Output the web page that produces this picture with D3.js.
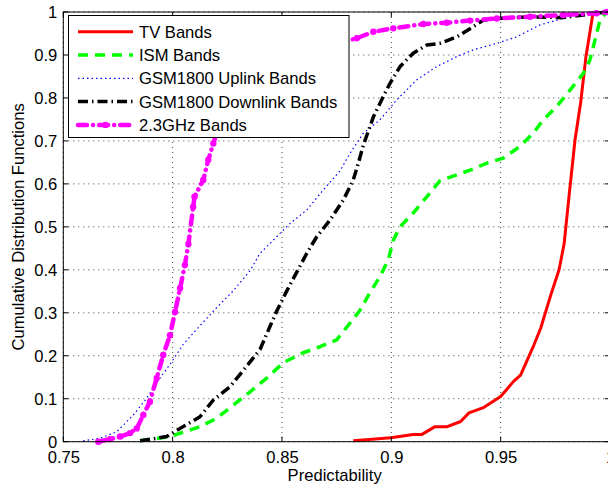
<!DOCTYPE html>
<html><head><meta charset="utf-8">
<script src="https://cdn.jsdelivr.net/npm/d3@7"></script>
<style>body{margin:0;background:#fff}svg{display:block}text{font-family:"Liberation Sans",Arial,sans-serif}</style>
</head><body><svg id="c" width="608" height="491"></svg>
<script>
const xTicks=[0.75,0.8,0.85,0.9,0.95,1];
const yTicks=[0,0.1,0.2,0.3,0.4,0.5,0.6,0.7,0.8,0.9,1];
const seriesNames=["TV Bands","ISM Bands","GSM1800 Uplink Bands","GSM1800 Downlink Bands","2.3GHz Bands"];
const tvBands=[[0.8826,0.002],[0.8997,0.009],[0.910,0.017],[0.914,0.017],[0.920,0.035],[0.9256,0.035],[0.9317,0.047],[0.9355,0.067],[0.9424,0.080],[0.950,0.105],[0.956,0.141],[0.9591,0.155],[0.9652,0.225],[0.9683,0.264],[0.9729,0.341],[0.9767,0.400],[0.979,0.46],[0.9814,0.578],[0.984,0.702],[0.9866,0.79],[0.989,0.896],[0.9923,1.0]];
const ismBands=[[0.7851,0.002],[0.7988,0.012],[0.8125,0.035],[0.820,0.054],[0.8277,0.085],[0.8354,0.116],[0.843,0.148],[0.8506,0.184],[0.8597,0.207],[0.8674,0.221],[0.875,0.237],[0.8811,0.276],[0.8857,0.306],[0.890,0.345],[0.8948,0.384],[0.8986,0.423],[0.9009,0.469],[0.904,0.500],[0.910,0.532],[0.9162,0.570],[0.9222,0.607],[0.936,0.632],[0.9436,0.648],[0.9512,0.660],[0.9588,0.687],[0.9649,0.718],[0.9695,0.749],[0.9756,0.780],[0.9817,0.818],[0.9878,0.857],[0.9908,0.888],[0.9939,0.950],[0.9954,0.981],[0.9985,1.0]];
const gsmUplink=[[0.7591,0.002],[0.7668,0.008],[0.7744,0.023],[0.782,0.062],[0.7881,0.101],[0.7942,0.148],[0.7988,0.18],[0.8049,0.227],[0.8125,0.27],[0.8201,0.312],[0.8277,0.351],[0.8354,0.398],[0.8399,0.438],[0.8476,0.477],[0.8537,0.508],[0.8613,0.539],[0.8689,0.586],[0.8765,0.63],[0.8811,0.671],[0.8872,0.718],[0.8948,0.749],[0.9024,0.795],[0.9116,0.842],[0.9207,0.873],[0.9299,0.896],[0.9375,0.912],[0.9482,0.927],[0.9573,0.942],[0.968,0.970],[0.9786,0.985],[0.9878,0.997],[0.995,1.0]];
const gsmDownlink=[[0.7851,0.002],[0.7927,0.008],[0.7973,0.012],[0.8034,0.031],[0.8125,0.058],[0.8186,0.097],[0.8262,0.128],[0.8339,0.176],[0.840,0.215],[0.8445,0.268],[0.8476,0.304],[0.8521,0.35],[0.8567,0.394],[0.8613,0.438],[0.8659,0.477],[0.872,0.516],[0.878,0.562],[0.8826,0.609],[0.8849,0.648],[0.8872,0.69],[0.8918,0.756],[0.8963,0.803],[0.8994,0.834],[0.904,0.873],[0.910,0.904],[0.9162,0.923],[0.9222,0.927],[0.9299,0.942],[0.9375,0.966],[0.942,0.981],[0.9482,0.985],[0.9634,0.989],[0.9786,0.987],[0.9939,0.997],[0.998,1.0]];
const band23=[[0.766,0.0],[0.7714,0.006],[0.776,0.012],[0.7805,0.020],[0.7836,0.031],[0.7866,0.062],[0.7896,0.093],[0.7927,0.148],[0.7957,0.202],[0.7988,0.248],[0.8011,0.302],[0.8034,0.357],[0.8056,0.411],[0.8072,0.46],[0.8094,0.547],[0.810,0.570],[0.814,0.609],[0.8163,0.656],[0.8186,0.694],[0.8201,0.718],[0.83,0.80],[0.845,0.87],[0.86,0.905],[0.8842,0.939],[0.8918,0.954],[0.9009,0.962],[0.9146,0.972],[0.9253,0.975],[0.936,0.980],[0.9482,0.985],[0.9634,0.989],[0.9786,0.993],[0.9939,0.997],[0.9985,1.0]];

const L=63.3,R=610,T=12,B=441.7;
const FS=16.6;
const x=d3.scaleLinear([0.75,1],[L,R]);
const y=d3.scaleLinear([0,1],[B,T]);
const svg=d3.select("#c");
svg.append("rect").attr("width",608).attr("height",491).attr("fill","#fff");

// grid
const g=svg.append("g");
g.selectAll(".gx").data(xTicks).join("line").attr("x1",d=>x(d)).attr("x2",d=>x(d)).attr("y1",T).attr("y2",B)
 .attr("stroke","#444").attr("stroke-width",1).attr("stroke-dasharray","1,4");
g.selectAll(".gy").data(yTicks).join("line").attr("y1",d=>y(d)).attr("y2",d=>y(d)).attr("x1",L).attr("x2",R)
 .attr("stroke","#444").attr("stroke-width",1).attr("stroke-dasharray","1,4");

const styles=[
 {data:tvBands,color:"#ff0000",w:3,dash:null,cap:"butt"},
 {data:ismBands,color:"#00ff00",w:3.5,dash:"10,7",cap:"butt"},
 {data:gsmUplink,color:"#0000ff",w:1.2,dash:"1.5,3",cap:"butt"},
 {data:gsmDownlink,color:"#000000",w:3.5,dash:"10,4,1.5,4",cap:"butt"},
 {data:band23,color:"#ff00ff",w:4.5,dash:"9,6,0.1,6",cap:"round",marker:true}
];
const line=d3.line().x(d=>x(d[0])).y(d=>y(d[1]));
const pg=svg.append("g");
styles.forEach(s=>{
  pg.append("path").attr("d",line(s.data)).attr("fill","none").attr("stroke",s.color)
   .attr("stroke-width",s.w).attr("stroke-dasharray",s.dash).attr("stroke-linecap",s.cap).attr("stroke-linejoin","round");
  if(s.marker){
    pg.selectAll(null).data(s.data).join("circle").attr("cx",d=>x(d[0])).attr("cy",d=>y(d[1])).attr("r",3.2).attr("fill",s.color);
  }
});

// axes box
const ax=svg.append("g");
ax.append("rect").attr("x",L).attr("y",T).attr("width",R-L).attr("height",B-T).attr("fill","none").attr("stroke","#000").attr("stroke-width",1);
const xa=d3.axisBottom(x).tickValues(xTicks).tickSize(0).tickPadding(0).tickFormat(d=>d3.format("")(+d.toFixed(2)));
const xg=svg.append("g").attr("transform",`translate(0,${B})`).call(xa);
xg.select(".domain").remove();
xg.selectAll("text").attr("dy",null).attr("y",21).attr("font-size",FS).attr("fill","#000").attr("font-family","Liberation Sans, Arial, sans-serif");
const ya=d3.axisLeft(y).tickValues(yTicks).tickSize(0).tickPadding(0).tickFormat(d=>d3.format("")(+d.toFixed(1)));
const yg=svg.append("g").attr("transform",`translate(${L},0)`).call(ya);
yg.select(".domain").remove();
yg.selectAll("text").attr("x",-6).attr("dy","0.35em").attr("font-size",FS).attr("fill","#000").attr("font-family","Liberation Sans, Arial, sans-serif");
// inner ticks on four sides
const tk=svg.append("g").attr("stroke","#000").attr("stroke-width",1);
xTicks.forEach(v=>{tk.append("line").attr("x1",x(v)).attr("x2",x(v)).attr("y1",B).attr("y2",B-5);
 tk.append("line").attr("x1",x(v)).attr("x2",x(v)).attr("y1",T).attr("y2",T+5);});
yTicks.forEach(v=>{tk.append("line").attr("y1",y(v)).attr("y2",y(v)).attr("x1",L).attr("x2",L+5);
 tk.append("line").attr("y1",y(v)).attr("y2",y(v)).attr("x1",R).attr("x2",R-5);});

svg.append("text").attr("x",(L+R)/2-2).attr("y",481).attr("text-anchor","middle").attr("font-size",FS).text("Predictability");
svg.append("text").attr("transform",`translate(24,${(T+B)/2}) rotate(-90)`).attr("text-anchor","middle").attr("font-size",FS).text("Cumulative Distribution Functions");

// legend
const lg=svg.append("g");
lg.append("rect").attr("x",68.5).attr("y",15.5).attr("width",280.5).attr("height",122).attr("fill","#fff").attr("stroke","#000").attr("stroke-width",1);
styles.forEach((s,i)=>{
  const cy=31.7+i*23.3;
  lg.append("line").attr("x1",78).attr("x2",133).attr("y1",cy).attr("y2",cy).attr("stroke",s.color)
    .attr("stroke-width",s.w).attr("stroke-dasharray",s.dash).attr("stroke-linecap",s.cap);
  if(s.marker) lg.append("circle").attr("cx",105.5).attr("cy",cy).attr("r",3.2).attr("fill",s.color);
  lg.append("text").attr("x",139).attr("y",cy+5.9).attr("font-size",FS).text(seriesNames[i]);
});
</script></body></html>
